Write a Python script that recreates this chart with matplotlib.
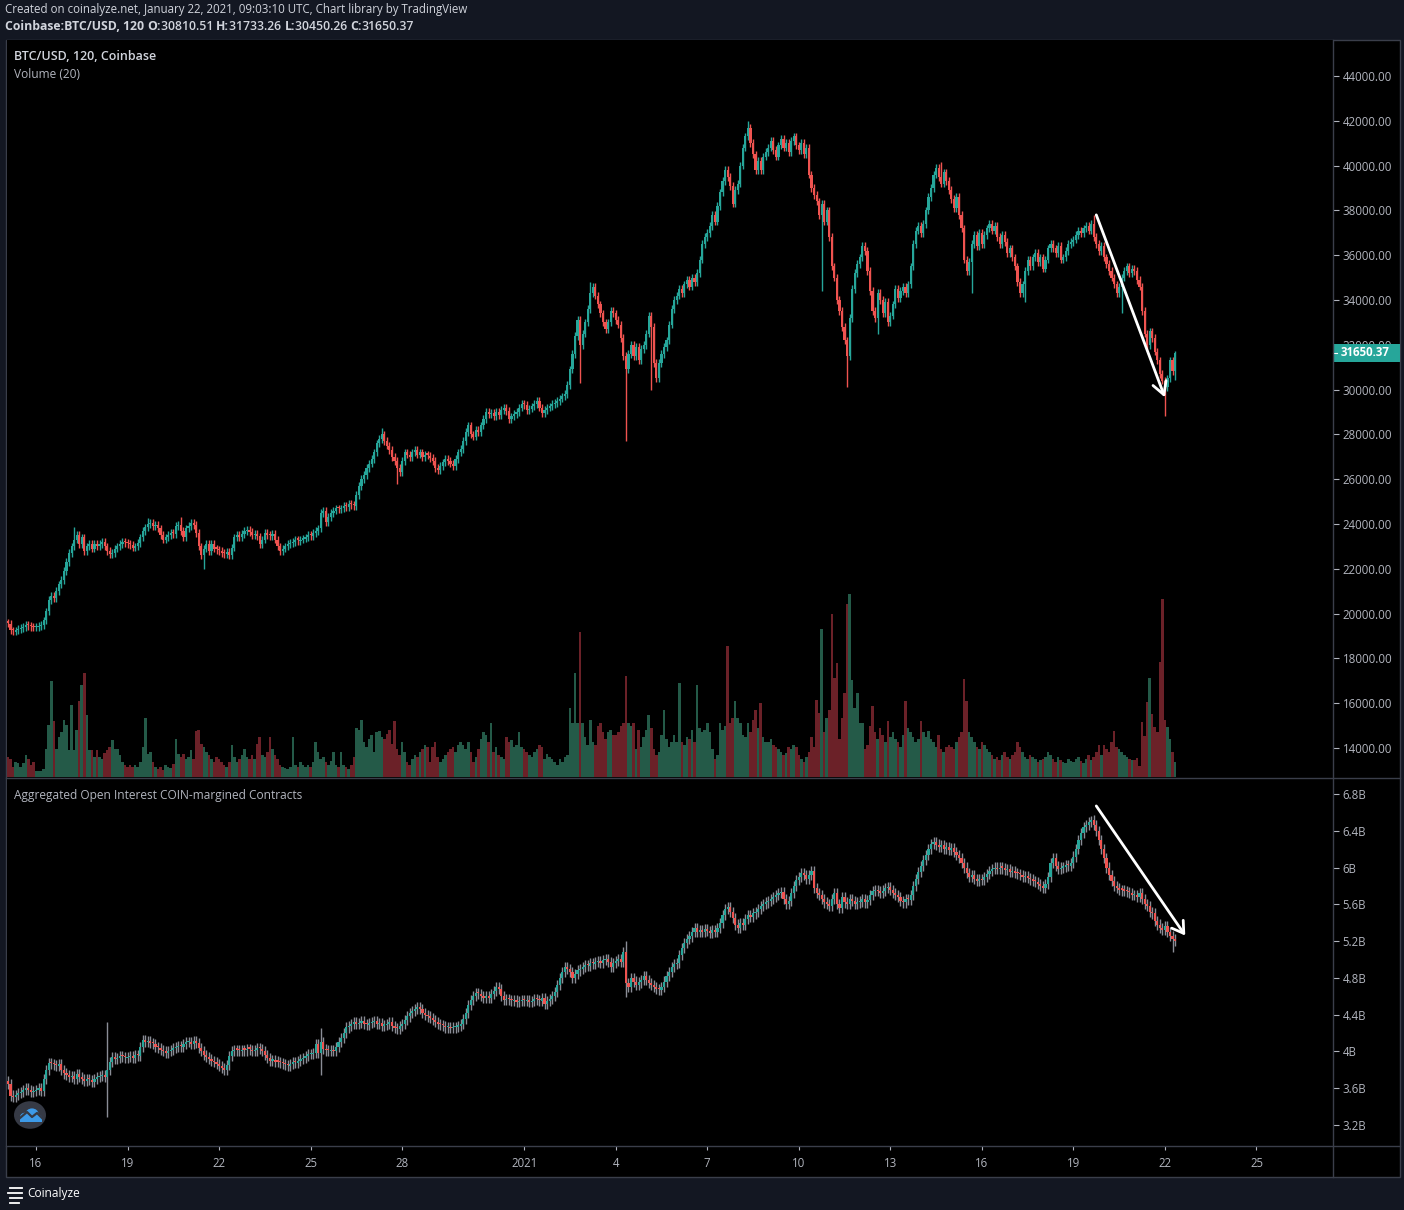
import numpy as np
import pandas as pd
import matplotlib
matplotlib.use("Agg")
import matplotlib.pyplot as plt
from matplotlib.patches import Rectangle, Circle, Polygon
from matplotlib.lines import Line2D
import matplotlib.transforms as mtransforms

# ---------------------------------------------------------------- data
start_time = "2020-12-15 02:00"      # first 2h candle
btc_first_open = 19600

# BTC/USD 2h closes, one row per day (Dec 15 .. Jan 22)
btc_close = [
    19550, 19250, 19200, 19250, 19300, 19350, 19400, 19500, 19450, 19400, 19380,          # Dec 15
    19400, 19450, 19500, 19700, 20100, 20600, 20800, 20700, 21000, 21300, 21500, 21900,   # Dec 16
    22300, 22700, 23000, 23300, 23500, 23100, 23400, 22800, 23000, 23100, 22900, 23100,   # Dec 17
    23000, 23100, 23200, 23000, 22800, 22650, 22700, 22900, 23000, 23100, 23200, 23150,   # Dec 18
    23100, 23050, 22950, 23000, 23150, 23400, 23700, 23850, 24000, 24050, 23900, 23950,   # Dec 19
    23800, 23500, 23300, 23400, 23500, 23600, 23550, 23900, 23950, 23700, 23400, 23800,   # Dec 20
    23900, 24050, 23950, 23600, 23000, 22600, 22900, 23100, 22800, 23100, 22900, 22850,   # Dec 21
    22800, 22700, 22650, 22750, 22600, 22950, 23400, 23500, 23400, 23550, 23700, 23750,   # Dec 22
    23650, 23500, 23550, 23450, 23100, 23300, 23600, 23500, 23450, 23550, 23300, 23000,   # Dec 23
    22800, 22900, 23000, 23100, 23150, 23200, 23300, 23250, 23300, 23350, 23400, 23500,   # Dec 24
    23450, 23600, 23700, 23800, 24500, 24600, 24100, 24300, 24500, 24600, 24700, 24650,   # Dec 25
    24700, 24800, 24750, 24900, 24850, 24800, 25300, 25700, 26000, 26200, 26500, 26700,   # Dec 26
    26900, 27200, 27600, 27800, 28000, 27700, 27500, 27300, 27000, 26800, 26500, 26300,   # Dec 27
    26800, 27200, 27100, 27000, 27200, 27300, 27100, 27200, 27000, 27100, 27050, 26950,   # Dec 28
    26800, 26500, 26400, 26600, 26750, 26900, 26800, 26700, 26600, 26900, 27200, 27350,   # Dec 29
    27700, 28100, 28400, 28000, 27900, 28200, 28100, 28400, 28700, 29000, 28900, 28950,   # Dec 30
    28800, 29000, 28850, 29100, 29200, 29050, 28700, 28800, 28900, 29000, 29200, 29350,   # Dec 31
    29300, 29100, 29150, 29250, 29350, 29500, 29200, 28950, 29100, 29200, 29250, 29350,   # Jan 1
    29400, 29500, 29600, 29700, 29800, 30200, 30900, 31600, 32400, 33100, 32000, 32500,   # Jan 2
    33000, 33600, 34300, 34600, 34200, 33800, 33400, 33000, 32700, 33000, 33500, 33400,   # Jan 3
    33100, 32900, 32300, 31500, 30900, 31600, 32000, 31500, 31900, 31300, 31800, 32000,   # Jan 4
    32500, 33300, 32800, 31200, 30500, 31200, 31600, 31900, 32200, 32900, 33600, 34000,   # Jan 5
    34200, 34500, 34300, 34700, 34900, 34600, 35000, 34800, 35200, 35800, 36500, 36800,   # Jan 6
    37000, 37300, 37800, 37500, 38200, 38800, 39300, 39800, 39500, 39100, 38300, 38900,   # Jan 7
    39200, 40000, 40800, 41300, 41700, 41000, 40500, 39800, 40200, 39800, 40400, 40600,   # Jan 8
    40800, 41100, 40700, 40400, 40900, 41200, 40800, 41000, 40600, 41100, 41300, 40900,   # Jan 9
    40700, 41000, 40500, 40800, 39600, 39000, 38700, 38400, 37800, 38300, 37500, 38000,   # Jan 10
    36800, 35500, 35000, 34000, 33500, 32800, 32200, 31500, 33200, 34500, 35200, 35600,   # Jan 11
    35900, 36400, 36200, 35300, 34400, 33500, 33200, 34300, 34000, 33400, 33900, 33000,   # Jan 12
    33300, 33800, 34500, 34100, 34400, 34600, 34300, 34700, 35500, 36500, 37100, 37300,   # Jan 13
    37000, 37400, 38000, 38600, 39000, 39600, 39900, 39500, 39200, 39700, 39300, 38900,   # Jan 14
    38500, 38100, 38600, 37800, 37200, 35800, 35300, 35700, 36500, 36900, 36400, 37000,   # Jan 15
    36500, 36900, 37200, 37400, 37100, 37300, 36800, 36500, 36900, 36600, 36100, 36300,   # Jan 16
    35900, 35500, 34800, 34300, 34700, 35300, 35800, 35500, 35900, 36100, 35700, 35900,   # Jan 17
    35400, 35800, 36300, 36500, 36300, 36100, 36400, 35800, 35900, 36200, 36500, 36600,   # Jan 18
    36700, 36900, 37100, 37000, 37200, 37300, 37100, 37400, 36800, 36500, 36200, 36400,   # Jan 19
    35900, 35600, 35300, 35000, 34700, 34300, 34600, 35000, 35300, 35500, 35200, 35400,   # Jan 20
    35300, 34900, 34600, 33500, 32500, 32000, 32600, 32300, 31700, 31300, 30700, 30400,   # Jan 21
    30100, 30500, 31300, 30810.51, 31650.37,                                              # Jan 22
]

# notable BTC wick extremes (candle index -> price)
btc_high_marks = {26: 23850, 55: 24250, 68: 24300, 147: 28300, 229: 34800,
                  291: 42000, 367: 40150, 427: 37800, 459: 31733.26}
btc_low_marks = {77: 22000, 153: 25800, 225: 30300, 243: 27700, 253: 30000,
                 320: 34400, 330: 30100, 342: 32500, 379: 34300, 400: 33900,
                 438: 33400, 455: 28800, 459: 30450.26}

# Volume (20), 2h bars, same candles
btc_volume = [
    20, 18, 10, 15, 14, 10, 14, 22, 18, 12, 15,
    6, 6, 6, 8, 28, 53, 97, 57, 28, 40, 45, 58,
    53, 27, 73, 27, 48, 77, 93, 105, 63, 27, 27, 20,
    27, 20, 18, 24, 27, 30, 37, 28, 28, 22, 15, 12,
    10, 12, 10, 12, 10, 15, 30, 60, 23, 25, 15, 10,
    8, 10, 7, 12, 10, 9, 13, 38, 23, 20, 23, 18,
    20, 27, 18, 47, 48, 33, 30, 25, 22, 18, 15, 20,
    18, 15, 12, 10, 15, 32, 20, 15, 18, 22, 28, 20,
    18, 22, 18, 33, 40, 22, 20, 25, 40, 28, 22, 18,
    12, 10, 9, 8, 10, 40, 12, 10, 15, 12, 10, 12,
    10, 15, 35, 25, 18, 20, 15, 12, 16, 25, 12, 10,
    25, 12, 10, 8, 12, 20, 50, 48, 58, 35, 30, 38,
    42, 25, 45, 47, 40, 38, 43, 48, 33, 57, 28, 22,
    35, 25, 15, 12, 18, 22, 20, 25, 28, 32, 30, 15,
    30, 35, 20, 15, 18, 22, 25, 28, 30, 25, 32, 35,
    32, 28, 35, 25, 15, 20, 28, 38, 45, 42, 35, 55,
    25, 30, 22, 20, 18, 40, 35, 37, 30, 32, 45, 30,
    28, 25, 22, 20, 25, 28, 32, 30, 18, 23, 20, 18,
    15, 12, 18, 15, 20, 22, 70, 55, 105, 55, 147, 55,
    40, 32, 58, 35, 32, 52, 55, 45, 38, 45, 48, 42,
    42, 45, 52, 55, 102, 55, 52, 55, 28, 48, 30, 40,
    48, 63, 50, 28, 22, 25, 42, 68, 38, 30, 35, 42,
    35, 95, 35, 32, 40, 38, 48, 35, 93, 50, 45, 48,
    55, 45, 28, 18, 22, 55, 48, 52, 132, 55, 60, 77,
    60, 55, 42, 40, 55, 45, 58, 68, 50, 75, 40, 35,
    35, 38, 32, 30, 28, 25, 22, 24, 30, 28, 32, 30,
    22, 18, 15, 20, 25, 40, 30, 78, 65, 150, 45, 60,
    68, 165, 100, 115, 38, 60, 85, 175, 185, 98, 70, 85,
    55, 55, 28, 32, 52, 72, 45, 38, 50, 42, 35, 57,
    40, 45, 38, 35, 30, 42, 77, 50, 45, 40, 35, 38,
    57, 45, 40, 47, 38, 35, 30, 42, 28, 25, 30, 32,
    30, 28, 35, 40, 45, 99, 77, 45, 40, 35, 30, 28,
    35, 32, 28, 25, 22, 18, 20, 17, 22, 25, 20, 18,
    22, 25, 35, 30, 25, 20, 18, 22, 20, 18, 15, 17,
    18, 20, 25, 22, 18, 15, 20, 17, 15, 14, 18, 16,
    15, 18, 20, 16, 14, 18, 22, 17, 20, 25, 32, 22,
    32, 28, 25, 35, 47, 30, 28, 25, 22, 20, 18, 17,
    17, 19, 11, 56, 41, 76, 100, 64, 51, 45, 116, 180,
    58, 51, 38, 25, 15,
]

# Aggregated open interest (billions USD), 2h closes
oi_first_open = 3.68
oi_close = [
    3.65, 3.52, 3.50, 3.53, 3.55, 3.56, 3.58, 3.60, 3.58, 3.56, 3.57,
    3.58, 3.60, 3.57, 3.70, 3.80, 3.87, 3.86, 3.85, 3.84, 3.86, 3.80, 3.76,
    3.74, 3.72, 3.73, 3.70, 3.75, 3.72, 3.70, 3.68, 3.70, 3.69, 3.67, 3.70,
    3.72, 3.73, 3.74, 3.72, 3.80, 3.88, 3.94, 3.92, 3.93, 3.95, 3.94, 3.93,
    3.94, 3.95, 3.93, 3.96, 3.95, 4.05, 4.12, 4.10, 4.11, 4.09, 4.08, 4.05,
    4.04, 4.02, 4.00, 3.98, 4.00, 4.02, 4.04, 4.05, 4.06, 4.05, 4.08, 4.10,
    4.10, 4.08, 4.11, 4.09, 4.04, 4.00, 3.96, 3.94, 3.92, 3.90, 3.88, 3.86,
    3.84, 3.82, 3.80, 3.85, 3.95, 4.00, 4.02, 4.01, 4.00, 4.02, 4.01, 4.03,
    4.02, 4.00, 4.01, 4.04, 4.03, 4.00, 3.96, 3.93, 3.90, 3.91, 3.89, 3.88,
    3.87, 3.86, 3.85, 3.84, 3.86, 3.88, 3.87, 3.90, 3.92, 3.93, 3.95, 3.97,
    3.97, 3.98, 4.08, 3.98, 4.10, 4.03, 4.01, 4.00, 4.02, 4.00, 4.05, 4.10,
    4.15, 4.20, 4.26, 4.28, 4.30, 4.32, 4.30, 4.31, 4.33, 4.30, 4.29, 4.31,
    4.32, 4.33, 4.30, 4.31, 4.28, 4.29, 4.30, 4.32, 4.28, 4.25, 4.24, 4.28,
    4.30, 4.34, 4.38, 4.42, 4.44, 4.46, 4.48, 4.46, 4.42, 4.40, 4.38, 4.36,
    4.34, 4.32, 4.30, 4.29, 4.28, 4.26, 4.27, 4.25, 4.26, 4.27, 4.28, 4.30,
    4.35, 4.42, 4.50, 4.56, 4.60, 4.63, 4.62, 4.60, 4.58, 4.60, 4.58, 4.62,
    4.66, 4.70, 4.68, 4.60, 4.56, 4.57, 4.56, 4.55, 4.56, 4.54, 4.55, 4.56,
    4.55, 4.56, 4.54, 4.55, 4.57, 4.56, 4.55, 4.58, 4.52, 4.55, 4.57, 4.60,
    4.65, 4.72, 4.80, 4.86, 4.92, 4.90, 4.86, 4.80, 4.84, 4.88, 4.90, 4.92,
    4.94, 4.93, 4.96, 4.95, 4.97, 4.98, 4.96, 4.99, 5.00, 4.97, 4.92, 4.96,
    4.98, 5.00, 4.97, 5.08, 4.74, 4.70, 4.80, 4.76, 4.72, 4.75, 4.78, 4.82,
    4.78, 4.74, 4.72, 4.70, 4.68, 4.67, 4.70, 4.76, 4.82, 4.86, 4.92, 4.95,
    4.96, 5.05, 5.12, 5.18, 5.22, 5.25, 5.30, 5.34, 5.30, 5.32, 5.30, 5.33,
    5.31, 5.29, 5.32, 5.30, 5.34, 5.40, 5.48, 5.55, 5.57, 5.52, 5.45, 5.38,
    5.34, 5.40, 5.38, 5.44, 5.48, 5.46, 5.50, 5.52, 5.55, 5.58, 5.60, 5.62,
    5.64, 5.66, 5.68, 5.70, 5.72, 5.73, 5.66, 5.60, 5.64, 5.72, 5.80, 5.86,
    5.90, 5.94, 5.92, 5.88, 5.92, 5.96, 5.78, 5.72, 5.70, 5.66, 5.62, 5.60,
    5.58, 5.66, 5.72, 5.60, 5.56, 5.68, 5.62, 5.60, 5.66, 5.64, 5.60, 5.62,
    5.63, 5.66, 5.62, 5.65, 5.70, 5.74, 5.76, 5.74, 5.72, 5.75, 5.78, 5.79,
    5.76, 5.72, 5.70, 5.68, 5.64, 5.62, 5.66, 5.65, 5.70, 5.80, 5.88, 5.95,
    6.02, 6.08, 6.14, 6.20, 6.26, 6.28, 6.25, 6.22, 6.24, 6.20, 6.22, 6.19,
    6.21, 6.17, 6.14, 6.10, 6.05, 6.00, 5.94, 5.90, 5.92, 5.88, 5.85, 5.88,
    5.86, 5.90, 5.93, 5.96, 5.98, 6.00, 5.98, 6.00, 5.99, 5.97, 5.98, 5.95,
    5.96, 5.94, 5.93, 5.92, 5.90, 5.91, 5.89, 5.87, 5.85, 5.84, 5.82, 5.80,
    5.78, 5.82, 5.90, 6.05, 6.10, 6.02, 5.98, 6.00, 6.01, 6.03, 6.02, 6.05,
    6.12, 6.20, 6.30, 6.38, 6.44, 6.46, 6.50, 6.52, 6.46, 6.40, 6.30, 6.20,
    6.10, 6.00, 5.92, 5.85, 5.80, 5.78, 5.76, 5.75, 5.74, 5.73, 5.72, 5.70,
    5.70, 5.68, 5.72, 5.66, 5.60, 5.58, 5.52, 5.50, 5.42, 5.38, 5.34, 5.32,
    5.36, 5.30, 5.26, 5.22, 5.20,
]
oi_high_marks = {39: 4.32, 123: 4.25, 243: 5.20, 426: 6.56}
oi_low_marks = {39: 3.29, 123: 3.74, 243: 4.59, 458: 5.08}

price_ticks = list(range(14000, 44001, 2000))
oi_ticks = [3.2, 3.6, 4.0, 4.4, 4.8, 5.2, 5.6, 6.0, 6.4, 6.8]
date_ticks = ["2020-12-16", "2020-12-19", "2020-12-22", "2020-12-25", "2020-12-28",
              "2021-01-01", "2021-01-04", "2021-01-07", "2021-01-10", "2021-01-13",
              "2021-01-16", "2021-01-19", "2021-01-22", "2021-01-25"]

# hand-drawn trend arrows (candle index, value)
btc_arrow = [(428, 37800), (455, 29650)]
oi_arrow = [(428, 6.67), (463, 5.26)]

assert len(btc_close) == len(btc_volume) == len(oi_close) == 460

# ---------------------------------------------------------------- style
W, H, DPI = 1404, 1210, 100
BG = "#131722"
UP, DN = "#26a69a", "#ef5350"
VUP, VDN = "#245a48", "#6b2128"
TXT = "#d1d4dc"
AX_TXT = "#b2b5be"
LINE = "#3a3e4a"
FONT = "Open Sans"
plt.rcParams["font.family"] = [FONT, "DejaVu Sans"]

fig = plt.figure(figsize=(W / DPI, H / DPI), dpi=DPI, facecolor=BG)


def fx(x):
    return x / W


def fy(y):
    return 1 - y / H


def rect(x0, y0, x1, y1):
    return [fx(x0), fy(y1), (x1 - x0) / W, (y1 - y0) / H]


# black chart container
fig.add_artist(Rectangle((fx(6), fy(1177)), (1400 - 6) / W, (1177 - 40) / H,
                         transform=fig.transFigure, facecolor="black",
                         edgecolor=LINE, linewidth=1, zorder=0))

times = pd.date_range(start_time, periods=len(btc_close), freq="2h")
idx = np.arange(len(btc_close))
X_LEFT, X_RIGHT = -0.4, 521.1


def candles(ax, first_open, closes, hi_marks, lo_marks, pad, wick_col=None,
            width=0.85, last_open=None):
    closes = np.asarray(closes, dtype=float)
    opens = np.concatenate([[first_open], closes[:-1]])
    if last_open is not None:
        opens[-1] = last_open
    hi = np.maximum(opens, closes) + pad
    lo = np.minimum(opens, closes) - pad
    for k, v in hi_marks.items():
        hi[k] = v
    for k, v in lo_marks.items():
        lo[k] = v
    up = closes >= opens
    cols = np.where(up, UP, DN)
    wc = cols if wick_col is None else wick_col
    ax.vlines(idx, lo, hi, colors=wc, linewidth=1.0, zorder=2)
    y0, y1 = ax.get_ylim()
    min_h = 1.2 * (y1 - y0) / (ax.get_position().height * H)
    h = closes - opens
    h = np.where(np.abs(h) < min_h, min_h, h)
    ax.bar(idx, h, bottom=opens, width=width, color=cols, linewidth=0, zorder=3)
    return opens, closes, up


# ---------------------------------------------------------------- main pane
main_rect = rect(7, 40, 1333, 777)
axv = fig.add_axes(main_rect, facecolor="black")
ax = fig.add_axes(main_rect, facecolor="none")
for a in (ax, axv):
    a.set_xlim(X_LEFT, X_RIGHT)
    for s in a.spines.values():
        s.set_visible(False)
ax.set_ylim(12705, 45607)

opens, closes, up = candles(ax, btc_first_open, btc_close, btc_high_marks,
                            btc_low_marks, 170, last_open=30810.51)

vmax = max(btc_volume)
axv.set_ylim(0, vmax * 737 / 183)
axv.bar(idx, btc_volume, width=1.0, color=np.where(up, VUP, VDN), linewidth=0)
axv.set_xticks([])
axv.set_yticks([])

ax.set_xticks([])
ax.yaxis.tick_right()
ax.set_yticks(price_ticks)
ax.set_yticklabels([f"{v:.2f}" for v in price_ticks])
ax.tick_params(axis="y", colors=AX_TXT, labelsize=8.3, length=4, width=0.8,
               pad=3, direction="out")
for t in ax.get_yticklines():
    t.set_color(LINE)

# last price label (covers the tick label underneath, as in TradingView)
last = closes[-1]
blend = mtransforms.blended_transform_factory(ax.transAxes, ax.transData)
px_per_usd = ax.get_position().height * H / (45607 - 12705)
box_h = 18 / px_per_usd
for lab, v in zip(ax.get_yticklabels(), price_ticks):
    if abs(v - last) < box_h * 0.8:
        lab.set_clip_on(True)
        lab.set_clip_box(mtransforms.TransformedBbox(
            mtransforms.Bbox([[1.0, last + box_h / 2], [1.06, 45607]]), blend))
ax.add_patch(Rectangle((1.0, last - box_h / 2), (1400 - 1333) / 1326, box_h,
                       transform=blend, facecolor=UP, edgecolor="none",
                       clip_on=False, zorder=10))
ax.text(1.0 + 8 / 1326, last, f"{last:.2f}", transform=blend, ha="left", va="center",
        color="white", fontsize=8.3, fontweight="bold", clip_on=False, zorder=11)
ax.add_line(Line2D([1.0, 1.0 + 4 / 1326], [last, last], transform=blend,
                   color="white", linewidth=0.8, clip_on=False, zorder=12))

ax.annotate("", xy=btc_arrow[1], xytext=btc_arrow[0],
            arrowprops=dict(arrowstyle="->,head_length=0.9,head_width=0.5",
                            color="white", lw=2.0, shrinkA=0, shrinkB=0), zorder=6)

# ---------------------------------------------------------------- OI pane
axo = fig.add_axes(rect(7, 779, 1333, 1146), facecolor="black")
axo.set_xlim(X_LEFT, X_RIGHT)
axo.set_ylim(2.971, 6.963)
for s in axo.spines.values():
    s.set_visible(False)
candles(axo, oi_first_open, oi_close, oi_high_marks, oi_low_marks, 0.055,
        wick_col="#8a8d96")
axo.yaxis.tick_right()
axo.set_yticks(oi_ticks)
axo.set_yticklabels([f"{v:g}B" for v in oi_ticks])
axo.tick_params(axis="y", colors=AX_TXT, labelsize=8.3, length=4, width=0.8,
                pad=3, direction="out")
for t in axo.get_yticklines():
    t.set_color(LINE)

tick_pos, tick_lab = [], []
for d in date_ticks:
    ts = pd.Timestamp(d)
    tick_pos.append((ts - times[0]) / pd.Timedelta("2h"))
    tick_lab.append(str(ts.year) if (ts.month == 1 and ts.day == 1) else str(ts.day))
axo.set_xticks(tick_pos)
axo.set_xticklabels(tick_lab)
axo.tick_params(axis="x", colors=AX_TXT, labelsize=8.3, length=3, width=0.8,
                pad=5, direction="out")
for t in axo.get_xticklines():
    t.set_color(LINE)

axo.annotate("", xy=oi_arrow[1], xytext=oi_arrow[0],
             arrowprops=dict(arrowstyle="->,head_length=0.8,head_width=0.5",
                             color="white", lw=2.0, shrinkA=0, shrinkB=0),
             annotation_clip=False, zorder=6)

# ---------------------------------------------------------------- frame lines
for (x0, y0, x1, y1) in [(1333, 40, 1333, 1177), (6, 778, 1400, 778),
                         (6, 1146, 1400, 1146)]:
    fig.add_artist(Line2D([fx(x0), fx(x1)], [fy(y0), fy(y1)], transform=fig.transFigure,
                          color=LINE, linewidth=1, zorder=20))

# ---------------------------------------------------------------- texts
fig.text(fx(5), fy(9), "Created on coinalyze.net, January 22, 2021, 09:03:10 UTC, "
         "Chart library by TradingView", color=TXT, fontsize=8.3, va="center", ha="left")

renderer = fig.canvas.get_renderer()
segs = [("Coinbase:BTC/USD, 120 ", "bold"), ("O:", "bold"), (f"{opens[-1]:.2f} ", "semibold"),
        ("H:", "bold"), (f"{btc_high_marks[459]:.2f} ", "semibold"),
        ("L:", "bold"), (f"{btc_low_marks[459]:.2f} ", "semibold"),
        ("C:", "bold"), (f"{closes[-1]:.2f}", "semibold")]
xcur = 5
for s, wgt in segs:
    t = fig.text(fx(xcur), fy(27), s, color=TXT, fontsize=8.8, fontweight=wgt,
                 va="center", ha="left")
    bb = t.get_window_extent(renderer=renderer)
    xcur += bb.width

fig.text(fx(14), fy(57), "BTC/USD, 120, Coinbase", color=TXT, fontsize=9,
         fontweight="semibold", va="center", ha="left")
fig.text(fx(14), fy(75), "Volume (20)", color=AX_TXT, fontsize=8.6, va="center", ha="left")
fig.text(fx(14), fy(795), "Aggregated Open Interest COIN-margined Contracts",
         color=AX_TXT, fontsize=8.6, va="center", ha="left")

# coinalyze logo
cx, cy = 30, 1115
fig.add_artist(Circle((fx(cx), fy(cy)), 16 / W, transform=fig.transFigure,
                      facecolor="#363a45", edgecolor="none", zorder=21))
for (dx, dy, r) in [(-5, 2, 5), (2, -1, 6.5), (8, 3, 4)]:
    fig.add_artist(Circle((fx(cx + dx), fy(cy + dy)), r / W, transform=fig.transFigure,
                          facecolor="#3d9be9", edgecolor="none", zorder=22))
fig.add_artist(Polygon([(fx(cx - 10), fy(cy + 2)), (fx(cx + 12), fy(cy + 2)),
                        (fx(cx + 12), fy(cy + 7)), (fx(cx - 10), fy(cy + 7))],
                       closed=True, transform=fig.transFigure, facecolor="#3d9be9",
                       edgecolor="none", zorder=22))
fig.add_artist(Line2D([fx(cx - 10), fx(cx - 3), fx(cx + 2), fx(cx + 7), fx(cx + 12)],
                      [fy(cy + 3), fy(cy - 3), fy(cy + 2), fy(cy - 2), fy(cy + 3)],
                      transform=fig.transFigure, color="#363a45", linewidth=1.6, zorder=23))

# footer
for (y, x0, x1) in [(1188, 10, 22), (1193, 8, 22), (1198, 10, 22), (1203, 10, 19)]:
    fig.add_artist(Line2D([fx(x0), fx(x1)], [fy(y), fy(y)], transform=fig.transFigure,
                          color="white", linewidth=1.3))
fig.text(fx(27), fy(1194), "Coinalyze", color="white", fontsize=8.6, va="center", ha="left")

fig.savefig("out.png", dpi=DPI, facecolor=BG)
